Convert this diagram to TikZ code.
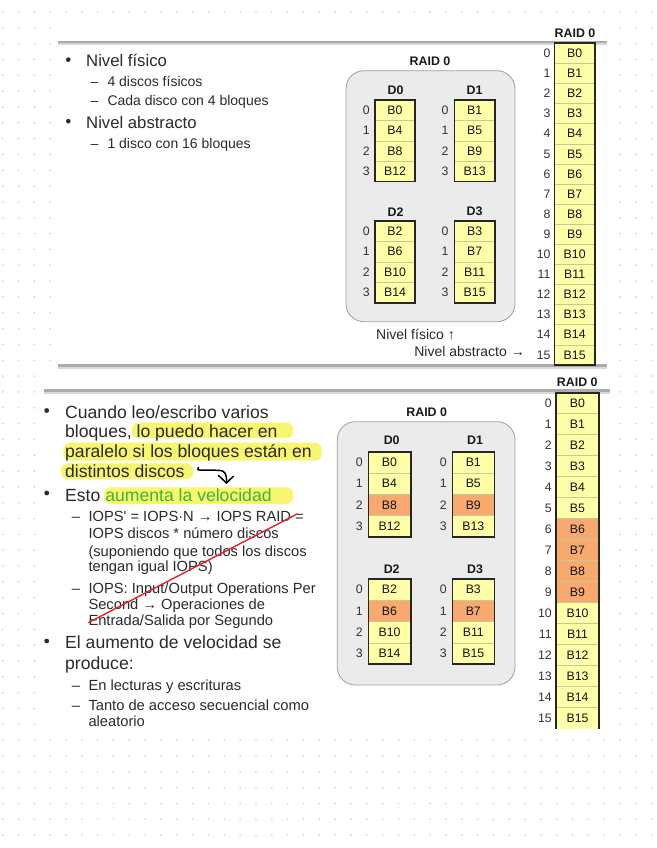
\documentclass[tikz,border=0pt]{standalone}
\usepackage{fontspec}
\setmainfont{Liberation Sans}
\definecolor{txt}{HTML}{2A2A2A}
\definecolor{cellY}{HTML}{FFFFA8}
\definecolor{cellO}{HTML}{F8AA6E}
\definecolor{cellLine}{HTML}{C9C79A}
\definecolor{boxFill}{HTML}{EBEBEB}
\definecolor{boxLine}{HTML}{A0A0A0}
\definecolor{hl}{HTML}{F8F56E}
\definecolor{grn}{HTML}{3DB53A}
\definecolor{strike}{HTML}{E0242A}
\definecolor{dotc}{HTML}{CDCDD2}
\definecolor{sepA}{HTML}{ABABAB}
\definecolor{sepB}{HTML}{D8D8D8}
\definecolor{numc}{HTML}{333333}
\newcommand{\fs}[1]{\fontsize{#1}{#1}\selectfont}
\tikzset{
  celltxt/.style={inner sep=0pt, font=\fs{12.3}, text={black!92}},
  numtxt/.style={inner sep=0pt, anchor=east, font=\fs{12.3}, text=numc},
  sepcell/.style={draw=cellLine, line width=0.6pt},
  frame/.style={draw={black!85}, line width=1.6pt},
  title/.style={inner sep=0pt, font=\bfseries\fs{12.4}, text={black!90}},
  raidbox/.style={draw=boxLine, fill=boxFill, line width=0.8pt, rounded corners=18pt},
  tl/.style={inner sep=0pt, anchor=base west, text=txt},
  dsh/.style={inner sep=0pt, anchor=base, text=txt},
  bul/.style={fill=txt},
  hlbox/.style={fill=hl, rounded corners=7pt},
  sepa/.style={draw=sepA, line width=2.4pt},
  sepb/.style={draw=sepB, line width=2.4pt},
}
% #1 prefix #2 xl #3 xr #4 ytop #5 h #6 num right x #7 count-1 #8 list
\newcommand{\diskcells}[8]{%
  \foreach \lab/\col [count=\k from 0] in {#8} {
    \fill[\col] (#2,{#4+#5*\k}) rectangle (#3,{#4+#5*(\k+1)});
    \node[celltxt] (#1c\k) at ({(#2+#3)/2},{#4+#5*(\k+0.5)}) {\lab};
    \node[numtxt] (#1n\k) at (#6,{#4+#5*(\k+0.5)}) {\k};
  }
  \foreach \k in {1,...,#7} {
    \draw[sepcell] (#2,{#4+#5*\k}) -- (#3,{#4+#5*\k});
  }
}
\begin{document}
\begin{tikzpicture}[x=1pt,y=-1pt]
\useasboundingbox (0,0) rectangle (656,848);
\fill[white] (0,0) rectangle (656,848);
% dot grid
\foreach \i in {0,...,41} {
  \foreach \j in {0,...,53} {
    \fill[dotc] ({2.7+15.83*\i},{12+15.83*\j}) circle (0.9);
  }
}
% slide areas
\fill[white] (55,20) rectangle (612,368);
\fill[white] (42,370) rectangle (612,732);
% separators
\draw[sepa] (58,41.8) -- (607,41.8);
\draw[sepb] (58,44.2) -- (607,44.2);
\draw[sepa] (58,365.6) -- (607,365.6);
\draw[sepb] (58,368) -- (607,368);
\draw[sepa] (44,390.6) -- (610,390.6);
\draw[sepb] (44,393) -- (610,393);

%================ TOP SLIDE =================
\fill[bul] (68.3,59.6) circle (2.3);
\node[tl, font=\fs{16.7}] (tA1) at (86,66.7) {Nivel físico};
\node[dsh, font=\fs{14}] (tdA) at (94.5,86.9) {–};
\node[tl, font=\fs{14}] (tA2) at (107.3,86.9) {4 discos físicos};
\node[dsh, font=\fs{14}] (tdB) at (94.5,105.9) {–};
\node[tl, font=\fs{14}] (tA3) at (107.3,105.9) {Cada disco con 4 bloques};
\fill[bul] (68.3,121.2) circle (2.3);
\node[tl, font=\fs{16.7}] (tA4) at (86,128.3) {Nivel abstracto};
\node[dsh, font=\fs{14}] (tdC) at (94.5,148.2) {–};
\node[tl, font=\fs{14}] (tA5) at (107.3,148.2) {1 disco con 16 bloques};

% RAID 0 physical (top)
\node[title] (tRaid) at (430,61.7) {RAID 0};
\draw[raidbox] (346,70.7) rectangle (515,321.7);
\node[title] (tL0) at (395.5,90.7) {D0};
\node[title] (tL1) at (474.5,90.7) {D1};
\node[title] (tL2) at (395.5,211.7) {D2};
\node[title] (tL3) at (474.5,211.7) {D3};
\diskcells{tA}{375}{415}{100}{20.4}{370}{3}{B0/cellY,B4/cellY,B8/cellY,B12/cellY}
\diskcells{tB}{454.3}{495}{100}{20.4}{448.6}{3}{B1/cellY,B5/cellY,B9/cellY,B13/cellY}
\diskcells{tC}{375}{415}{221}{20.5}{370}{3}{B2/cellY,B6/cellY,B10/cellY,B14/cellY}
\diskcells{tD}{454.3}{495}{221}{20.5}{448.6}{3}{B3/cellY,B7/cellY,B11/cellY,B15/cellY}
\draw[frame] (375,100) rectangle (415,181.6);
\draw[frame] (454.3,100) rectangle (495,181.6);
\draw[frame] (375,221) rectangle (415,303);
\draw[frame] (454.3,221) rectangle (495,303);
\node[inner sep=0pt, anchor=base east, font=\fs{14}, text=txt] (tNf) at (455,339.8) {Nivel físico ↑};
\node[inner sep=0pt, anchor=base east, font=\fs{14}, text=txt] (tNa) at (525,356.3) {Nivel abstracto →};

% RAID 0 logical (top)
\node[title] (tRaidR) at (575,33.3) {RAID 0};
\diskcells{tR}{554.3}{595}{43.3}{20.1}{550.7}{15}{B0/cellY,B1/cellY,B2/cellY,B3/cellY,B4/cellY,B5/cellY,B6/cellY,B7/cellY,B8/cellY,B9/cellY,B10/cellY,B11/cellY,B12/cellY,B13/cellY,B14/cellY,B15/cellY}
\draw[frame] (554.3,43.3) rectangle (595,364.9);

%================ BOTTOM SLIDE =================
% highlights
\fill[hlbox] (131.7,422.7) rectangle (293.3,438.3);
\fill[hlbox] (63.3,442.7) rectangle (321.7,460.7);
\fill[hlbox] (61,463.3) rectangle (193.3,479.3);
\fill[hlbox] (104,487.3) rectangle (293.3,504);

\fill[bul] (46.7,410.5) circle (2.4);
\node[tl, font=\fs{17.6}] (bA1) at (65,418.6) {Cuando leo/escribo varios};
\node[tl, font=\fs{17.6}] (bA2) at (65,437) {bloques, lo puedo hacer en};
\node[tl, font=\fs{17.6}] (bA3) at (65,457) {paralelo si los bloques están en};
\node[tl, font=\fs{17.6}] (bA4) at (65,477) {distintos discos};
\fill[bul] (46.7,493) circle (2.4);
\node[tl, font=\fs{17.6}] (bB1) at (65,501.3) {Esto \textcolor{grn}{aumenta la velocidad}};
\node[dsh, font=\fs{14.7}] (bdA) at (76,521) {–};
\node[tl, font=\fs{14.7}] (bB2) at (88.3,521) {IOPS\textquotesingle{} = IOPS·N → IOPS RAID =};
\node[tl, font=\fs{14.7}] (bB3) at (88.3,538.4) {IOPS discos * número discos};
\node[tl, font=\fs{14.7}] (bB4) at (88.3,556) {(suponiendo que todos los discos};
\node[tl, font=\fs{14.7}] (bB5) at (88.3,571.7) {tengan igual IOPS)};
\node[dsh, font=\fs{14.7}] (bdB) at (76,593.7) {–};
\node[tl, font=\fs{14.7}] (bB6) at (88.3,593.7) {IOPS: Input/Output Operations Per};
\node[tl, font=\fs{14.7}] (bB7) at (88.3,609.4) {Second → Operaciones de};
\node[tl, font=\fs{14.7}] (bB8) at (88.3,625.4) {Entrada/Salida por Segundo};
\fill[bul] (46.7,641) circle (2.4);
\node[tl, font=\fs{17.6}] (bC1) at (65,648.6) {El aumento de velocidad se};
\node[tl, font=\fs{17.6}] (bC2) at (65,669.3) {produce:};
\node[dsh, font=\fs{14.7}] (bdC) at (76,690.4) {–};
\node[tl, font=\fs{14.7}] (bC3) at (88.3,690.4) {En lecturas y escrituras};
\node[dsh, font=\fs{14.7}] (bdD) at (76,710) {–};
\node[tl, font=\fs{14.7}] (bC4) at (88.3,710) {Tanto de acceso secuencial como};
\node[tl, font=\fs{14.7}] (bC5) at (88.3,726.7) {aleatorio};

% hand annotations
\coordinate (arS) at (198.3,467.5);
\coordinate (arM) at (219,470.3);
\coordinate (arE) at (226.5,483);
\draw[line width=1.5pt, line cap=round, line join=round] (arS) .. controls (197.5,470) .. (200,470) -- (arM) .. controls (225,470.5) and (227,474) .. (arE);
\draw[line width=1.5pt, line cap=round, line join=round] (218.5,475.5) -- (arE) -- (233.3,476.3);
\coordinate (stA) at (297,514);
\coordinate (stB) at (88.3,622.7);
\draw[strike, line width=1.4pt] (stA) -- (stB);

% RAID 0 physical (bottom)
\node[title] (bRaid) at (426.7,412.7) {RAID 0};
\draw[raidbox] (337.3,421.7) rectangle (515,685);
\node[title] (bL0) at (391.7,440) {D0};
\node[title] (bL1) at (475,440) {D1};
\node[title] (bL2) at (391.7,569) {D2};
\node[title] (bL3) at (475,569) {D3};
\diskcells{bA}{368.3}{410.7}{451.7}{21.25}{362.9}{3}{B0/cellY,B4/cellY,B8/cellO,B12/cellY}
\diskcells{bB}{452.3}{494.3}{451.7}{21.25}{446.9}{3}{B1/cellY,B5/cellY,B9/cellO,B13/cellY}
\diskcells{bC}{368.3}{410.7}{579}{21.3}{362.9}{3}{B2/cellY,B6/cellO,B10/cellY,B14/cellY}
\diskcells{bD}{452.3}{494.3}{579}{21.3}{446.9}{3}{B3/cellY,B7/cellO,B11/cellY,B15/cellY}
\draw[frame] (368.3,451.7) rectangle (410.7,536.7);
\draw[frame] (452.3,451.7) rectangle (494.3,536.7);
\draw[frame] (368.3,579) rectangle (410.7,664.2);
\draw[frame] (452.3,579) rectangle (494.3,664.2);

% RAID 0 logical (bottom)
\node[title] (bRaidR) at (577.3,382.7) {RAID 0};
\diskcells{bR}{556}{599}{392.7}{21.0}{551.9}{15}{B0/cellY,B1/cellY,B2/cellY,B3/cellY,B4/cellY,B5/cellY,B6/cellO,B7/cellO,B8/cellO,B9/cellO,B10/cellY,B11/cellY,B12/cellY,B13/cellY,B14/cellY,B15/cellY}
\draw[frame] (556,728.7) -- (556,392.7) -- (599,392.7) -- (599,728.7);
\end{tikzpicture}
\end{document}
